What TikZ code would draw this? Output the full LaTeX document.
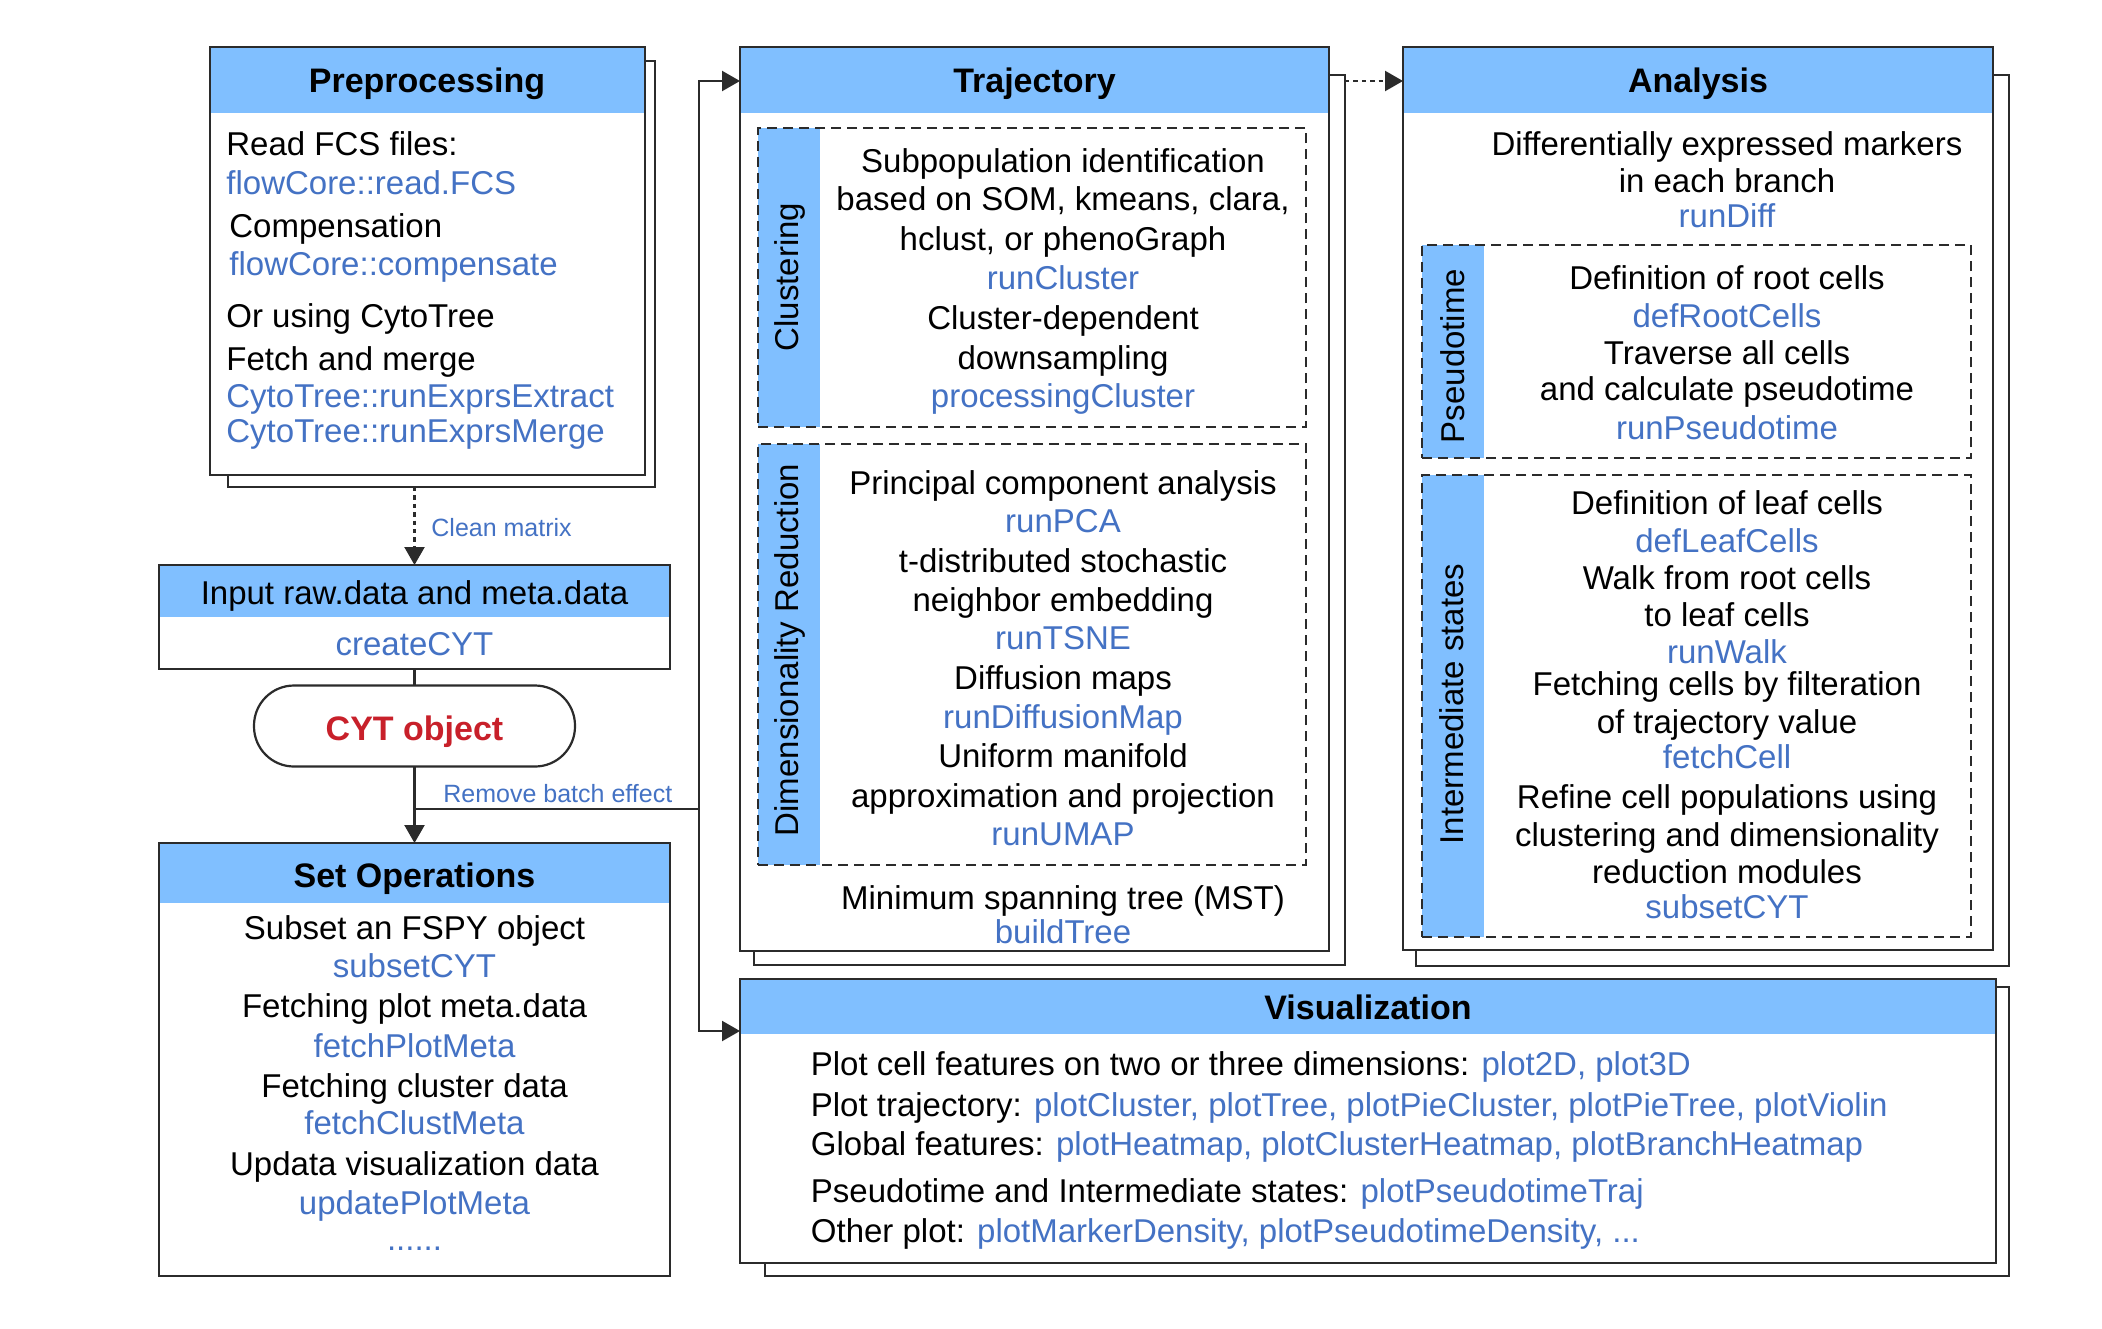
\documentclass[tikz,border=0pt]{standalone}
\usepackage{fontspec}
\setmainfont{Liberation Sans}
\usetikzlibrary{arrows.meta,calc}
\definecolor{hdr}{HTML}{80BFFF}
\definecolor{fncol}{HTML}{4472C4}
\definecolor{cytred}{HTML}{C8202A}
\definecolor{lc}{HTML}{2B2B2B}
\begin{document}
\begin{tikzpicture}[x=0.5pt,y=-0.5pt,
 bx/.style={rectangle, draw=lc, line width=1.1pt, fill=white, inner sep=0pt, outer sep=0pt, anchor=north west},
 dbx/.style={rectangle, draw=lc, line width=0.9pt, dash pattern=on 5pt off 3pt, inner sep=0pt, outer sep=0pt, anchor=north west},
 tx/.style={font=\fontsize{16.5pt}{19pt}\selectfont, inner sep=0pt, text=black},
 fnt/.style={tx, text=fncol},
 ttl/.style={font=\fontsize{17pt}{20pt}\selectfont\bfseries, inner sep=0pt, anchor=base},
 sml/.style={font=\fontsize{12.5pt}{15pt}\selectfont, text=fncol, inner sep=0pt, anchor=base west},
 rot/.style={tx, rotate=90, anchor=center},
 conn/.style={draw=lc, line width=1.1pt},
 arr/.style={conn, -{Triangle[length=9pt,width=10pt]}},
 dotarr/.style={arr, dash pattern=on 2.2pt off 2pt}]
\useasboundingbox (0,0) rectangle (2102,1328);
\fill[white] (0,0) rectangle (2102,1328);

% ---------- Preprocessing ----------
\node[bx, minimum width=213.5pt, minimum height=213pt] (prepsh) at (228,61) {};
\node[bx, minimum width=217.5pt, minimum height=214pt] (prep) at (210,47) {};
\fill[hdr] (211,48) rectangle (644,113);
\node[ttl] (preptitle) at (427,92) {Preprocessing};
\foreach \yy/\xx/\st/\txt [count=\i] in {
  155/226/tx/{Read FCS files:},
  194/226/fnt/{flowCore::read.FCS},
  237/229/tx/{Compensation},
  275/229/fnt/{flowCore::compensate},
  327/226/tx/{Or using CytoTree},
  370/226/tx/{Fetch and merge},
  407/226/fnt/{CytoTree::runExprsExtract},
  442/226/fnt/{CytoTree::runExprsMerge}}
  \node[\st, anchor=base west] (pp\i) at (\xx,\yy) {\txt};

% ---------- Input ----------
\node[bx, minimum width=255.5pt, minimum height=52pt] (input) at (159,565) {};
\fill[hdr] (160,566) rectangle (669,617);
\node[tx, anchor=base] (inputtitle) at (414.5,604) {Input raw.data and meta.data};
\node[fnt, anchor=base] (createcyt) at (414.5,655) {createCYT};

% ---------- CYT object ----------
\node[draw=lc, line width=1.1pt, rectangle, rounded corners=20pt, minimum width=160.5pt, minimum height=40.5pt, inner sep=0pt, outer sep=0pt] (cyt) at (414.5,726) {};
\node[font=\fontsize{17pt}{20pt}\selectfont\bfseries, text=cytred, anchor=base, inner sep=0pt] (cyttxt) at (414.5,740) {CYT object};

% ---------- Set Operations ----------
\node[bx, minimum width=255.5pt, minimum height=216.5pt] (setops) at (159,843) {};
\fill[hdr] (160,844) rectangle (669,903);
\node[ttl] (setopstitle) at (414.5,887) {Set Operations};
\foreach \yy/\st/\txt [count=\i] in {
  939/tx/{Subset an FSPY object},
  977/fnt/{subsetCYT},
  1017/tx/{Fetching plot meta.data},
  1057/fnt/{fetchPlotMeta},
  1097/tx/{Fetching cluster data},
  1134/fnt/{fetchClustMeta},
  1175/tx/{Updata visualization data},
  1214/fnt/{updatePlotMeta},
  1250/fnt/{......}}
  \node[\st, anchor=base] (so\i) at (414.5,\yy) {\txt};

% ---------- Trajectory ----------
\node[bx, minimum width=295.5pt, minimum height=445pt] (trajsh) at (754,75) {};
\node[bx, minimum width=294.5pt, minimum height=452pt] (traj) at (740,47) {};
\fill[hdr] (741,48) rectangle (1328,113);
\node[ttl] (trajtitle) at (1034.5,92) {Trajectory};
% clustering
\fill[hdr] (758,128) rectangle (820,427);
\node[dbx, minimum width=274pt, minimum height=149.5pt] (clus) at (758,128) {};
\node[rot] (clustxt) at (790,277) {Clustering};
\foreach \yy/\st/\txt [count=\i] in {
  172/tx/{Subpopulation identification},
  210/tx/{based on SOM, kmeans, clara,},
  250/tx/{hclust, or phenoGraph},
  289/fnt/{runCluster},
  329/tx/{Cluster-dependent},
  369/tx/{downsampling},
  407/fnt/{processingCluster}}
  \node[\st, anchor=base] (cl\i) at (1063,\yy) {\txt};
% dimensionality reduction
\fill[hdr] (758,444) rectangle (820,865);
\node[dbx, minimum width=274pt, minimum height=210.5pt] (dimred) at (758,444) {};
\node[rot] (dimredtxt) at (790,650) {Dimensionality Reduction};
\foreach \yy/\st/\txt [count=\i] in {
  494/tx/{Principal component analysis},
  532/fnt/{runPCA},
  572/tx/{t-distributed stochastic},
  611/tx/{neighbor embedding},
  649/fnt/{runTSNE},
  689/tx/{Diffusion maps},
  728/fnt/{runDiffusionMap},
  767/tx/{Uniform manifold},
  807/tx/{approximation and projection},
  845/fnt/{runUMAP}}
  \node[\st, anchor=base] (dr\i) at (1063,\yy) {\txt};
\node[tx, anchor=base] (mst) at (1063,909) {Minimum spanning tree (MST)};
\node[fnt, anchor=base] (buildtree) at (1063,943) {buildTree};

% ---------- Analysis ----------
\node[bx, minimum width=296.5pt, minimum height=445.5pt] (anash) at (1416,75) {};
\node[bx, minimum width=295pt, minimum height=451.5pt] (ana) at (1403,47) {};
\fill[hdr] (1404,48) rectangle (1992,113);
\node[ttl] (anatitle) at (1698,92) {Analysis};
\node[tx, anchor=base] (an1) at (1727,155) {Differentially expressed markers};
\node[tx, anchor=base] (an2) at (1727,192) {in each branch};
\node[fnt, anchor=base] (an3) at (1727,227) {runDiff};
% pseudotime
\fill[hdr] (1422,245) rectangle (1484,458);
\node[dbx, minimum width=274.5pt, minimum height=106.5pt] (pseudo) at (1422,245) {};
\node[rot] (pseudotxt) at (1453,356) {Pseudotime};
\foreach \yy/\st/\txt [count=\i] in {
  289/tx/{Definition of root cells},
  327/fnt/{defRootCells},
  364/tx/{Traverse all cells},
  400/tx/{and calculate pseudotime},
  439/fnt/{runPseudotime}}
  \node[\st, anchor=base] (ps\i) at (1727,\yy) {\txt};
% intermediate states
\fill[hdr] (1422,475) rectangle (1484,937);
\node[dbx, minimum width=274.5pt, minimum height=231pt] (inter) at (1422,475) {};
\node[rot] (intertxt) at (1452,704) {Intermediate states};
\foreach \yy/\st/\txt [count=\i] in {
  514/tx/{Definition of leaf cells},
  552/fnt/{defLeafCells},
  589/tx/{Walk from root cells},
  626/tx/{to leaf cells},
  663/fnt/{runWalk},
  695/tx/{Fetching cells by filteration},
  733/tx/{of trajectory value},
  768/fnt/{fetchCell},
  808/tx/{Refine cell populations using},
  846/tx/{clustering and dimensionality},
  883/tx/{reduction modules},
  918/fnt/{subsetCYT}}
  \node[\st, anchor=base] (is\i) at (1727,\yy) {\txt};

% ---------- Visualization ----------
\node[bx, minimum width=622pt, minimum height=144.5pt] (vissh) at (765,987) {};
\node[bx, minimum width=628pt, minimum height=142pt] (vis) at (740,979) {};
\fill[hdr] (741,980) rectangle (1995,1034);
\node[ttl] (vistitle) at (1368,1019) {Visualization};
\node[tx, anchor=base west] (vl1) at (810.5,1075) {Plot cell features on two or three dimensions: \textcolor{fncol}{plot2D, plot3D}};
\node[tx, anchor=base west] (vl2) at (810.5,1116) {Plot trajectory: \textcolor{fncol}{plotCluster, plotTree, plotPieCluster, plotPieTree, plotViolin}};
\node[tx, anchor=base west] (vl3) at (810.5,1155) {Global features: \textcolor{fncol}{plotHeatmap, plotClusterHeatmap, plotBranchHeatmap}};
\node[tx, anchor=base west] (vl4) at (810.5,1202) {Pseudotime and Intermediate states: \textcolor{fncol}{plotPseudotimeTraj}};
\node[tx, anchor=base west] (vl5) at (810.5,1242) {Other plot: \textcolor{fncol}{plotMarkerDensity, plotPseudotimeDensity, ...}};

% ---------- Connectors ----------
\draw[dotarr] (input.north |- prepsh.south) -- (input.north);
\node[sml] (cleanlbl) at (431,536) {Clean matrix};
\draw[conn] (input.south) -- (cyt.north);
\draw[arr] (cyt.south) -- (setops.north);
\coordinate (br) at (414.5,809);
\coordinate (jn) at (699,809);
\coordinate (trajin) at ($(traj.north west)+(0,34)$);
\coordinate (visin) at ($(vis.north west)+(0,52)$);
\coordinate (trajout) at ($(trajsh.north east)+(0,6)$);
\coordinate (anain) at ($(ana.north west)+(0,34)$);
\draw[conn] (br) -- (jn);
\draw[arr] (jn) |- (trajin);
\draw[arr] (jn) |- (visin);
\node[sml] (batchlbl) at (443,802) {Remove batch effect};
\draw[dotarr] (trajout) -- (anain);
\end{tikzpicture}
\end{document}
